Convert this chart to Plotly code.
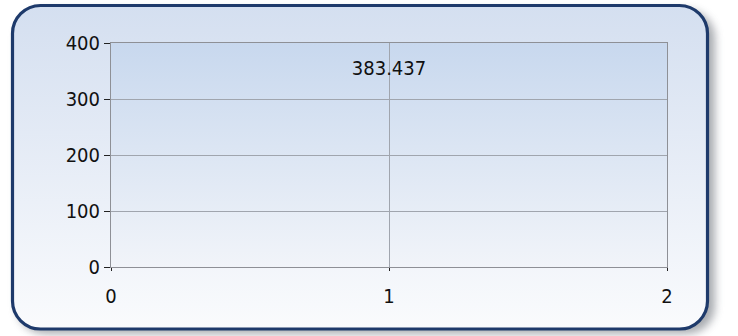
import base64
import plotly.graph_objects as go

# Series data
x_values = [1]
y_values = [383.437]
point_labels = ["383.437"]

# Axis ticks
x_ticks = [0, 1, 2]
y_ticks = [0, 100, 200, 300, 400]

W, H = 738, 336
L, R, T, B = 111, 71, 43, 69
PW, PH = W - L - R, H - T - B

FONT = "DejaVu Sans Condensed, Liberation Sans, sans-serif"

# Framed panel behind the chart: drop shadow, rounded border and gradients
svg = f"""<svg xmlns='http://www.w3.org/2000/svg' width='{W}' height='{H}' viewBox='0 0 {W} {H}'>
<defs>
  <linearGradient id='outer' x1='0' y1='0' x2='0' y2='1'>
    <stop offset='0' stop-color='#d4dff0'/>
    <stop offset='1' stop-color='#fafbfd'/>
  </linearGradient>
  <linearGradient id='inner' x1='0' y1='0' x2='0' y2='1'>
    <stop offset='0' stop-color='#c8d8ee'/>
    <stop offset='1' stop-color='#f1f4f9'/>
  </linearGradient>
  <filter id='blur' x='-10%' y='-10%' width='120%' height='120%'>
    <feGaussianBlur stdDeviation='4'/>
  </filter>
</defs>
<rect x='17' y='10' width='698' height='324' rx='28' ry='28' fill='#6f747d' opacity='0.6' filter='url(#blur)'/>
<rect x='12.5' y='5.5' width='695' height='323.5' rx='28' ry='28' fill='url(#outer)' stroke='#1e3a6b' stroke-width='3.2'/>
<rect x='{L}' y='{T}' width='{PW}' height='{PH}' fill='url(#inner)'/>
</svg>"""
svg_uri = "data:image/svg+xml;base64," + base64.b64encode(svg.encode()).decode()

fig = go.Figure()
fig.add_trace(go.Scatter(
    x=x_values,
    y=y_values,
    mode="markers+text",
    marker=dict(size=11, color="rgba(0,0,0,0)"),
    text=point_labels,
    textposition="bottom center",
    textfont=dict(family=FONT, size=20, color="#111111"),
    hoverinfo="skip",
    showlegend=False,
))

fig.add_layout_image(dict(
    source=svg_uri,
    xref="paper", yref="paper",
    x=-L / PW, y=1 + T / PH,
    sizex=W / PW, sizey=H / PH,
    xanchor="left", yanchor="top",
    sizing="stretch",
    layer="below",
))

axis_common = dict(
    showgrid=True,
    gridcolor="#a0a5ae",
    gridwidth=1,
    showline=True,
    linecolor="#8e9096",
    linewidth=1,
    mirror=True,
    zeroline=False,
    ticks="outside",
    tickcolor="#222222",
    tickfont=dict(family=FONT, size=20, color="#111111"),
)

fig.update_xaxes(range=[0, 2], tickvals=x_ticks, ticklen=3,
                 ticklabelstandoff=8, **axis_common)
fig.update_yaxes(range=[0, 400], tickvals=y_ticks, ticklen=6, **axis_common)

fig.update_layout(
    width=W, height=H,
    margin=dict(l=L, r=R, t=T, b=B, pad=0),
    paper_bgcolor="white",
    plot_bgcolor="rgba(0,0,0,0)",
)

fig.write_html("out.html")
